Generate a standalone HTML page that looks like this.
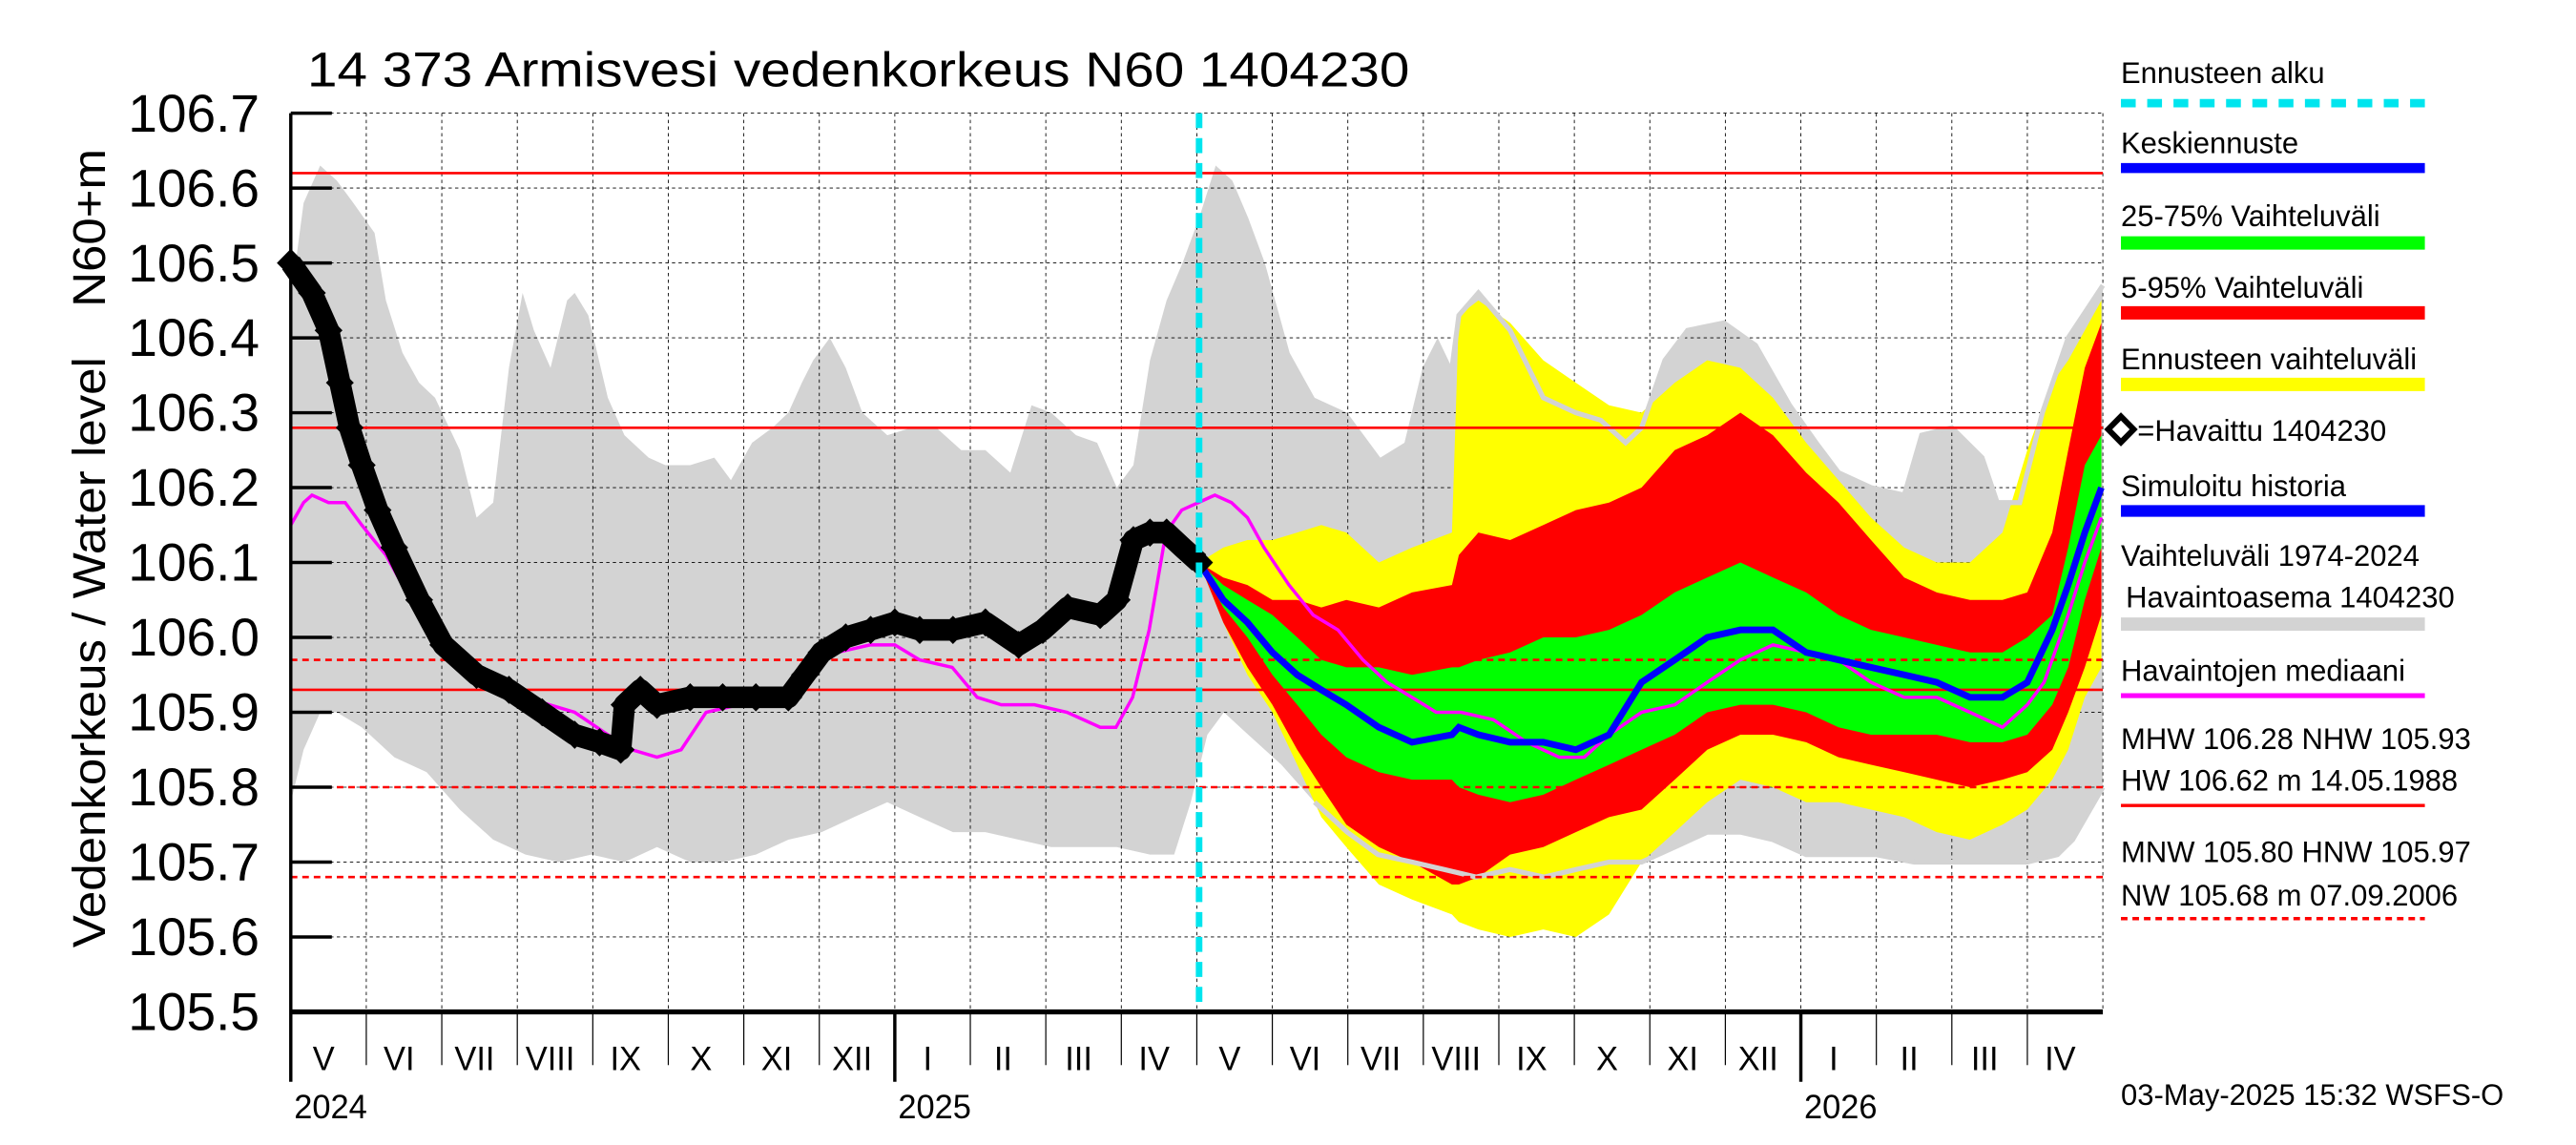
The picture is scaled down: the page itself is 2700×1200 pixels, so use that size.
<!DOCTYPE html>
<html><head><meta charset="utf-8"><title>Armisvesi vedenkorkeus</title>
<style>html,body{margin:0;padding:0;background:#fff}svg{display:block}text{font-family:"Liberation Sans",sans-serif}</style>
</head><body>
<svg id="chart" xmlns="http://www.w3.org/2000/svg" width="2700" height="1200" viewBox="0 0 1568 688" preserveAspectRatio="none">
<g id="bands"></g>
<text x="187" y="52" font-size="29" textLength="671" lengthAdjust="spacingAndGlyphs">14 373 Armisvesi vedenkorkeus N60 1404230</text>
<text transform="translate(64,392) rotate(-90)" text-anchor="middle" font-size="28" textLength="355" lengthAdjust="spacingAndGlyphs">Vedenkorkeus / Water level</text>
<text transform="translate(64,137) rotate(-90)" text-anchor="middle" font-size="28" textLength="95" lengthAdjust="spacingAndGlyphs">N60+m</text>
<g id="legend" font-size="18">
 <g><text x="1291" y="50">Ennusteen alku</text><line x1="1291" y1="62" x2="1476" y2="62" stroke="#00e5ee" stroke-width="5" stroke-dasharray="9,7"/></g>
 <g><text x="1291" y="92">Keskiennuste</text><line x1="1291" y1="101" x2="1476" y2="101" stroke="#0000ff" stroke-width="6"/></g>
 <g><text x="1291" y="136">25-75% Vaihteluväli</text><line x1="1291" y1="146" x2="1476" y2="146" stroke="#00ff00" stroke-width="8"/></g>
 <g><text x="1291" y="179">5-95% Vaihteluväli</text><line x1="1291" y1="188" x2="1476" y2="188" stroke="#ff0000" stroke-width="8"/></g>
 <g><text x="1291" y="222">Ennusteen vaihteluväli</text><line x1="1291" y1="231" x2="1476" y2="231" stroke="#ffff00" stroke-width="8"/></g>
 <g><rect x="1285.5" y="252.5" width="11" height="11" fill="#fff" stroke="#000" stroke-width="3.5" transform="rotate(45 1291 258)"/><text x="1301" y="265">=Havaittu 1404230</text></g>
 <g><text x="1291" y="298">Simuloitu historia</text><line x1="1291" y1="307" x2="1476" y2="307" stroke="#0000ff" stroke-width="7"/></g>
 <g><text x="1291" y="340">Vaihteluväli 1974-2024</text><text x="1294" y="365"> Havaintoasema 1404230</text><line x1="1291" y1="375" x2="1476" y2="375" stroke="#d3d3d3" stroke-width="8"/></g>
 <g><text x="1291" y="409">Havaintojen mediaani</text><line x1="1291" y1="418" x2="1476" y2="418" stroke="#ff00ff" stroke-width="3"/></g>
 <g><text x="1291" y="450">MHW 106.28 NHW 105.93</text><text x="1291" y="475">HW 106.62 m 14.05.1988</text><line x1="1291" y1="484" x2="1476" y2="484" stroke="#ff0000" stroke-width="2"/></g>
 <g><text x="1291" y="518">MNW 105.80 HNW 105.97</text><text x="1291" y="544">NW 105.68 m 07.09.2006</text><line x1="1291" y1="552" x2="1476" y2="552" stroke="#ff0000" stroke-width="2" stroke-dasharray="4,3"/></g>
 <text x="1291" y="664">03-May-2025 15:32 WSFS-O</text>
</g>
</svg>
<script>
const yTicks=[105.5,105.6,105.7,105.8,105.9,106.0,106.1,106.2,106.3,106.4,106.5,106.6,106.7];
const monthLabels=["V","VI","VII","VIII","IX","X","XI","XII","I","II","III","IV","V","VI","VII","VIII","IX","X","XI","XII","I","II","III","IV"];
const yearLabels=["2024","2025","2026"];
const yearMonthIdx=[0,8,20];
const refSolid=[106.62,106.28,105.93];
const refDashed=[105.97,105.80,105.68];
const forecastStart=12.03;
const grayUpT=[0,0.17,0.39,0.61,0.83,1.11,1.26,1.48,1.7,1.91,2.24,2.46,2.68,2.89,3.07,3.22,3.44,3.66,3.76,3.94,4.2,4.42,4.74,4.96,5.29,5.61,5.83,6.11,6.38,6.59,6.77,6.92,7.14,7.35,7.57,7.9,8.22,8.55,8.88,9.2,9.53,9.81,10.07,10.4,10.68,10.94,11.16,11.38,11.6,11.81,12.03,12.25,12.47,12.68,12.9,13.23,13.56,13.99,14.43,14.75,14.99,15.19,15.38,15.47,15.73,16.15,16.59,17.02,17.35,17.68,17.89,18.2,18.5,18.98,19.4,19.85,20.2,20.5,20.93,21.37,21.6,22.0,22.4,22.6,22.9,23.2,23.54,24];
const grayUp=[106.45,106.58,106.63,106.61,106.58,106.54,106.45,106.38,106.34,106.32,106.25,106.16,106.18,106.36,106.46,106.41,106.36,106.45,106.46,106.43,106.32,106.27,106.24,106.23,106.23,106.24,106.21,106.26,106.28,106.3,106.34,106.37,106.4,106.36,106.3,106.27,106.28,106.28,106.25,106.25,106.22,106.31,106.3,106.27,106.26,106.2,106.23,106.37,106.45,106.5,106.56,106.63,106.61,106.56,106.5,106.38,106.32,106.3,106.24,106.26,106.36,106.4,106.36,106.43,106.46,106.41,106.32,106.3,106.29,106.26,106.28,106.37,106.41,106.42,106.39,106.31,106.26,106.22,106.2,106.19,106.27,106.28,106.24,106.18,106.18,106.3,106.4,106.47];
const grayLoT=[0,0.17,0.39,0.61,0.94,1.37,1.8,2.24,2.68,3.11,3.55,3.98,4.42,4.85,5.29,5.72,6.16,6.59,7.03,7.46,7.9,8.33,8.77,9.2,9.64,10.07,10.51,10.94,11.38,11.7,11.92,12.14,12.36,12.68,13.12,13.56,13.99,14.4,14.85,15.28,15.7,16.15,16.6,17.02,17.46,17.89,18.33,18.76,19.2,19.63,20.07,20.5,21,21.5,22,22.5,23,23.4,23.6,24];
const grayLo=[105.78,105.85,105.9,105.9,105.88,105.84,105.82,105.77,105.73,105.71,105.7,105.71,105.7,105.72,105.7,105.7,105.71,105.73,105.74,105.76,105.78,105.76,105.74,105.74,105.73,105.72,105.72,105.72,105.71,105.71,105.78,105.87,105.9,105.87,105.83,105.78,105.74,105.71,105.7,105.69,105.68,105.69,105.68,105.69,105.7,105.7,105.72,105.74,105.74,105.73,105.71,105.71,105.71,105.7,105.7,105.7,105.7,105.71,105.73,105.8];
const obsT=[0,0.28,0.5,0.65,0.78,0.94,1.15,1.37,1.7,2.02,2.46,2.89,3.33,3.76,4.09,4.37,4.42,4.63,4.85,5.29,5.72,6.16,6.59,6.81,7.03,7.35,7.68,8.0,8.33,8.77,9.2,9.64,9.96,10.29,10.72,10.94,11.16,11.38,11.6,11.81,12.03];
const obs=[106.5,106.46,106.41,106.34,106.28,106.23,106.17,106.12,106.05,105.99,105.95,105.93,105.9,105.87,105.86,105.85,105.91,105.93,105.91,105.92,105.92,105.92,105.92,105.95,105.98,106.0,106.01,106.02,106.01,106.01,106.02,105.99,106.01,106.04,106.03,106.05,106.13,106.14,106.14,106.12,106.1];
const medT=[0,0.17,0.28,0.5,0.72,0.94,1.26,1.59,1.91,2.24,2.67,3.11,3.43,3.76,4.2,4.52,4.85,5.17,5.5,5.93,6.37,6.7,6.91,7.24,7.67,8.0,8.33,8.76,9.09,9.41,9.85,10.28,10.72,10.93,11.15,11.37,11.59,11.8,12.02,12.24,12.46,12.67,12.89,13.22,13.54,13.87,14.2,14.52,14.85,15.17,15.5,15.93,16.37,16.8,17.13,17.46,17.89,18.33,18.76,19.2,19.63,20.07,20.5,20.93,21.37,21.8,22.24,22.67,23.0,23.22,23.54,23.76,23.98];
const med=[106.15,106.18,106.19,106.18,106.18,106.15,106.11,106.05,105.99,105.96,105.94,105.92,105.91,105.9,105.87,105.85,105.84,105.85,105.9,105.91,105.91,105.92,105.96,105.98,105.99,105.99,105.97,105.96,105.92,105.91,105.91,105.9,105.88,105.88,105.92,106.01,106.14,106.17,106.18,106.19,106.18,106.16,106.12,106.07,106.03,106.01,105.97,105.94,105.92,105.9,105.9,105.89,105.86,105.84,105.84,105.87,105.9,105.91,105.94,105.97,105.99,105.98,105.97,105.94,105.92,105.92,105.9,105.88,105.91,105.94,106.03,106.1,106.16];
const fcT=[12.03,12.35,12.67,13.0,13.33,13.65,13.98,14.41,14.85,15.38,15.47,15.73,16.15,16.59,17.02,17.46,17.89,18.33,18.76,19.2,19.63,20.07,20.5,20.93,21.37,21.8,22.24,22.67,23.0,23.33,23.54,23.76,23.98];
const yelUp=[106.1,106.12,106.13,106.13,106.14,106.15,106.14,106.1,106.12,106.14,106.43,106.45,106.42,106.37,106.34,106.31,106.3,106.34,106.37,106.36,106.32,106.26,106.21,106.16,106.12,106.1,106.1,106.14,106.25,106.34,106.37,106.41,106.45];
const redUp=[106.1,106.08,106.07,106.05,106.05,106.04,106.05,106.04,106.06,106.07,106.11,106.14,106.13,106.15,106.17,106.18,106.2,106.25,106.27,106.3,106.27,106.22,106.18,106.13,106.08,106.06,106.05,106.05,106.06,106.14,106.25,106.36,106.42];
const grnUp=[106.1,106.07,106.05,106.03,106.0,105.97,105.96,105.96,105.95,105.96,105.96,105.97,105.98,106.0,106.0,106.01,106.03,106.06,106.08,106.1,106.08,106.06,106.03,106.01,106.0,105.99,105.98,105.98,106.0,106.03,106.12,106.23,106.27];
const fcMed=[106.1,106.05,106.02,105.98,105.95,105.93,105.91,105.88,105.86,105.87,105.88,105.87,105.86,105.86,105.85,105.87,105.94,105.97,106.0,106.01,106.01,105.98,105.97,105.96,105.95,105.94,105.92,105.92,105.94,106.01,106.07,106.14,106.2];
const grnLo=[106.1,106.04,106.0,105.95,105.91,105.87,105.84,105.82,105.81,105.81,105.8,105.79,105.78,105.79,105.81,105.83,105.85,105.87,105.9,105.91,105.91,105.9,105.88,105.87,105.87,105.87,105.86,105.86,105.87,105.91,105.96,106.05,106.12];
const redLo=[106.1,106.02,105.96,105.91,105.85,105.8,105.75,105.72,105.7,105.67,105.67,105.68,105.71,105.72,105.74,105.76,105.77,105.81,105.85,105.87,105.87,105.86,105.84,105.83,105.82,105.81,105.8,105.81,105.82,105.85,105.9,105.96,106.03];
const yelLo=[106.1,106.02,105.95,105.9,105.83,105.76,105.72,105.67,105.65,105.63,105.62,105.61,105.6,105.61,105.6,105.63,105.7,105.74,105.78,105.81,105.8,105.78,105.78,105.77,105.76,105.74,105.73,105.75,105.77,105.81,105.85,105.92,105.96];

const NS="http://www.w3.org/2000/svg";
const L=177,R=1280,T=68,B=608,PXM=(R-L)/24;
function X(t){return L+t*PXM;}
function Y(v){return T+(106.7-v)*450;}
const g=document.getElementById('bands');
function mk(tag,attrs,parent){const e=document.createElementNS(NS,tag);for(const k in attrs)e.setAttribute(k,attrs[k]);(parent||g).appendChild(e);return e;}
function pts(ts,vs){return ts.map((t,i)=>X(t).toFixed(1)+","+Y(vs[i]).toFixed(1)).join(" ");}
function band(ts,up,lo){return pts(ts,up)+" "+pts(ts.slice().reverse(),lo.slice().reverse());}

const gAll=pts(grayUpT,grayUp)+" "+pts(grayLoT.slice().reverse(),grayLo.slice().reverse());
let e=mk('polygon',{points:gAll,fill:'#d3d3d3'});



for(const v of yTicks){
 e=mk('line',{x1:L,x2:R,y1:Y(v),y2:Y(v),stroke:'#000','stroke-width':0.5,'stroke-dasharray':'2,2'});
 
 
}
for(let m=1;m<=24;m++){
 e=mk('line',{x1:X(m),x2:X(m),y1:T,y2:B,stroke:'#000','stroke-width':0.5,'stroke-dasharray':'2,2'});
 
 
}

e=mk('polygon',{points:band(fcT,yelUp,yelLo),fill:'#ffff00'});


e=mk('polygon',{points:band(fcT,redUp,redLo),fill:'#ff0000'});


e=mk('polygon',{points:band(fcT,grnUp,grnLo),fill:'#00ff00'});



const iU=grayUpT.findIndex(t=>t>=15.38), iL=grayLoT.findIndex(t=>t>=13.56);
e=mk('polyline',{points:pts(grayUpT.slice(iU),grayUp.slice(iU)),fill:'none',stroke:'#d3d3d3','stroke-width':3});


e=mk('polyline',{points:pts(grayLoT.slice(iL),grayLo.slice(iL)),fill:'none',stroke:'#d3d3d3','stroke-width':3});



for(const v of refSolid){
 e=mk('line',{x1:L,x2:R,y1:Y(v),y2:Y(v),stroke:'#ff0000','stroke-width':1.5});
 
 
}
for(const v of refDashed){
 e=mk('line',{x1:L,x2:R,y1:Y(v),y2:Y(v),stroke:'#ff0000','stroke-width':1.5,'stroke-dasharray':'4,3'});
 
 
}

e=mk('polyline',{points:pts(medT,med),fill:'none',stroke:'#ff00ff','stroke-width':2});


e=mk('polyline',{points:pts(fcT,fcMed),fill:'none',stroke:'#0000ff','stroke-width':4});


e=mk('polyline',{points:pts(obsT,obs),fill:'none',stroke:'#000','stroke-width':13,'stroke-linejoin':'round'});


obsT.forEach((t,i)=>{
 const d=mk('rect',{x:X(t)-6,y:Y(obs[i])-6,width:12,height:12,fill:'#000',transform:`rotate(45 ${X(t)} ${Y(obs[i])})`});
 
 
});

e=mk('line',{x1:X(forecastStart),x2:X(forecastStart),y1:T,y2:B,stroke:'#00e5ee','stroke-width':4,'stroke-dasharray':'9,6'});



e=mk('line',{x1:L,x2:L,y1:T,y2:650,stroke:'#000','stroke-width':2});


e=mk('line',{x1:L,x2:R,y1:B,y2:B,stroke:'#000','stroke-width':3});


for(const v of yTicks){
 e=mk('line',{x1:L,x2:L+25,y1:Y(v),y2:Y(v),stroke:'#000','stroke-width':2});
 
 
 e=mk('text',{x:158,y:Y(v)+11,'text-anchor':'end','font-size':32,textLength:80,lengthAdjust:'spacingAndGlyphs'});
 e.textContent=v.toFixed(1);
 
 
}
for(let m=1;m<24;m++){
 const yr=yearMonthIdx.includes(m);
 e=mk('line',{x1:X(m),x2:X(m),y1:B,y2:yr?650:640,stroke:'#000','stroke-width':yr?2:0.7});
 
 
}
monthLabels.forEach((s,i)=>{
 e=mk('text',{x:X(i+0.5)-3,y:643,'text-anchor':'middle','font-size':20});
 e.textContent=s;
 
 
});
yearLabels.forEach((s,i)=>{
 e=mk('text',{x:X(yearMonthIdx[i])+2,y:672,'font-size':20});
 e.textContent=s;
 
 
});
</script>
</body></html>
